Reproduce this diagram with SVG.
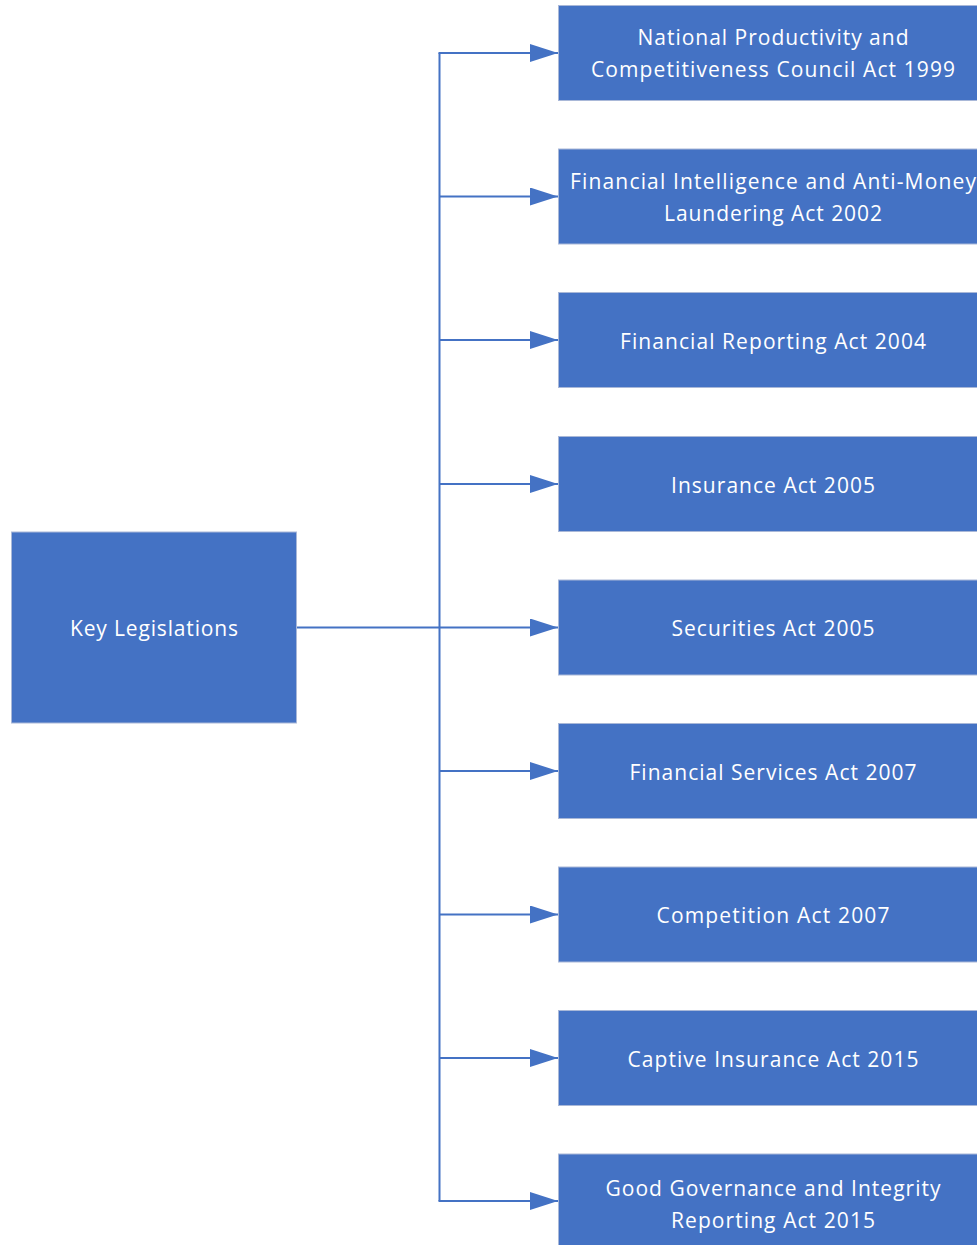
<svg xmlns="http://www.w3.org/2000/svg" width="977" height="1245" viewBox="0 0 977 1245">
<defs>
<style>
.box{fill:#4472C4;stroke:#A9B8D8;stroke-width:1}
.t{fill:#fff;font-family:"Open Sans","Liberation Sans",Arial,sans-serif;font-size:21px;text-anchor:middle}
.c{fill:none;stroke:#4472C4;stroke-width:2}
</style>
<marker id="ah" viewBox="0 0 28 18" refX="28" refY="9" markerWidth="28" markerHeight="18" markerUnits="userSpaceOnUse" orient="auto">
<path d="M0,0 L28,9 L0,18 Z" fill="#4472C4"/>
</marker>
</defs>
<g id="connectors">
<line class="c" x1="297" y1="627.5" x2="439.5" y2="627.5"/>
<line class="c" x1="439.5" y1="53" x2="439.5" y2="1201"/>
<line class="c" x1="438.5" y1="53" x2="558" y2="53" marker-end="url(#ah)"/>
<line class="c" x1="439.5" y1="196.5" x2="558" y2="196.5" marker-end="url(#ah)"/>
<line class="c" x1="439.5" y1="340" x2="558" y2="340" marker-end="url(#ah)"/>
<line class="c" x1="439.5" y1="484" x2="558" y2="484" marker-end="url(#ah)"/>
<line class="c" x1="439.5" y1="627.5" x2="558" y2="627.5" marker-end="url(#ah)"/>
<line class="c" x1="439.5" y1="771" x2="558" y2="771" marker-end="url(#ah)"/>
<line class="c" x1="439.5" y1="914.5" x2="558" y2="914.5" marker-end="url(#ah)"/>
<line class="c" x1="439.5" y1="1058" x2="558" y2="1058" marker-end="url(#ah)"/>
<line class="c" x1="438.5" y1="1201" x2="558" y2="1201" marker-end="url(#ah)"/>
</g>
<g id="key">
<rect class="box" x="11.5" y="532" width="285" height="191"/>
<text class="t" x="154" y="636" textLength="168" lengthAdjust="spacing">Key Legislations</text>
</g>
<g id="n1">
<rect class="box" x="558.5" y="5.5" width="430" height="95"/>
<text class="t" x="773" y="45" textLength="271" lengthAdjust="spacing">National Productivity and</text>
<text class="t" x="773" y="77" textLength="364" lengthAdjust="spacing">Competitiveness Council Act 1999</text>
</g>
<g id="n2">
<rect class="box" x="558.5" y="149" width="430" height="95"/>
<text class="t" x="773" y="189" textLength="406" lengthAdjust="spacing">Financial Intelligence and Anti-Money</text>
<text class="t" x="773" y="221" textLength="218" lengthAdjust="spacing">Laundering Act 2002</text>
</g>
<g id="n3">
<rect class="box" x="558.5" y="292.5" width="430" height="95"/>
<text class="t" x="773" y="349" textLength="306" lengthAdjust="spacing">Financial Reporting Act 2004</text>
</g>
<g id="n4">
<rect class="box" x="558.5" y="436.5" width="430" height="95"/>
<text class="t" x="773" y="493" textLength="204" lengthAdjust="spacing">Insurance Act 2005</text>
</g>
<g id="n5">
<rect class="box" x="558.5" y="580" width="430" height="95"/>
<text class="t" x="773" y="636" textLength="203" lengthAdjust="spacing">Securities Act 2005</text>
</g>
<g id="n6">
<rect class="box" x="558.5" y="723.5" width="430" height="95"/>
<text class="t" x="773" y="780" textLength="287" lengthAdjust="spacing">Financial Services Act 2007</text>
</g>
<g id="n7">
<rect class="box" x="558.5" y="867" width="430" height="95"/>
<text class="t" x="773" y="923" textLength="233" lengthAdjust="spacing">Competition Act 2007</text>
</g>
<g id="n8">
<rect class="box" x="558.5" y="1010.5" width="430" height="95"/>
<text class="t" x="773" y="1067" textLength="291" lengthAdjust="spacing">Captive Insurance Act 2015</text>
</g>
<g id="n9">
<rect class="box" x="558.5" y="1154" width="430" height="95"/>
<text class="t" x="773" y="1196" textLength="335" lengthAdjust="spacing">Good Governance and Integrity</text>
<text class="t" x="773" y="1228" textLength="204" lengthAdjust="spacing">Reporting Act 2015</text>
</g>
</svg>
